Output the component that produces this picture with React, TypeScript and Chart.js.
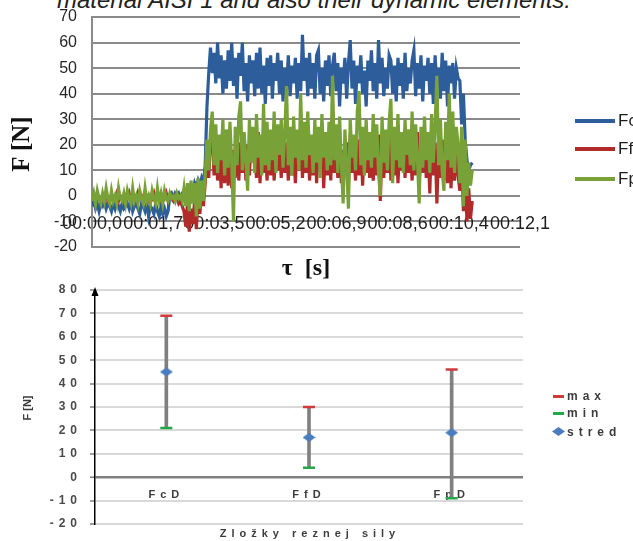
import React, { useEffect, useRef } from 'react';
import { Chart, registerables } from 'chart.js';

Chart.register(...registerables);

// ---------- top chart: force components over time ----------
const SAMPLE_STEP_S = 0.05;
const TIME_TICK_VALUES = [0, 1.73, 3.46, 5.19, 6.91, 8.64, 10.37, 12.1];
const TIME_TICK_LABELS = ['00:00,0', '00:01,7', '00:03,5', '00:05,2', '00:06,9', '00:08,6', '00:10,4', '00:12,1'];
const SERIES_NAMES = ['Fc', 'Ff', 'Fp'];

const FC = [
  -4, -2, -5, -3, -6, -3, -4, -2, -5, -3,
  -4, -6, -3, -5, -2, -4, -6, -3, -5, -4,
  -3, -5, -2, -6, -4, -3, -5, -7, -3, -4,
  -6, -3, -8, -4, -5, -7, -3, -6, -8, -4,
  -7, -5, -8, -6, 0, 1, -1, 1, 0, 1,
  -1, 1, 2, 0, 3, 1, 4, 2, 5, 3,
  6, 4, 7, 5, 12, 35, 48, 58, 48, 56,
  44, 60, 46, 55, 40, 53, 42, 57, 45, 60,
  43, 54, 38, 56, 47, 60, 41, 52, 37, 55,
  44, 53, 39, 56, 42, 58, 40, 51, 36, 54,
  43, 55, 38, 52, 45, 56, 40, 53, 37, 50,
  42, 55, 39, 51, 44, 54, 38, 52, 41, 63,
  45, 54, 39, 56, 42, 52, 38, 55, 57, 40,
  50, 37, 53, 43, 55, 39, 51, 56, 41, 52,
  35, 50, 44, 54, 38, 52, 61, 42, 53, 36,
  51, 44, 55, 40, 49, 35, 53, 45, 57, 41,
  52, 38, 61, 44, 54, 39, 50, 42, 55, 53,
  40, 51, 37, 54, 43, 52, 38, 56, 41, 50,
  44, 53, 57, 39, 52, 42, 55, 37, 51, 45,
  54, 40, 52, 36, 55, 43, 50, 38, 56, 41,
  53, 35, 51, 44, 52, 38, 50, 46, 45, 28,
  40, 22, 14, 10, 12, 13,
];

const FF = [
  -1, 0, -2, 1, -1, -2, 0, -1, 1, -2,
  -1, 0, -2, -1, 1, -2, 0, -1, -2, 0,
  -1, 1, -2, 0, -1, -2, 1, -1, 0, -2,
  1, -1, -2, 0, -1, 1, -2, 0, -1, -2,
  0, -1, 1, -2, 0, -1, -2, 0, -1, -3,
  -2, -4, -6, -12, -3, -14, -5, -11, -2, -13,
  0, -7, 2, -4, 5, 18, 7, 22, 26, 8,
  22, 6, 20, 3, 24, 5, 19, 4, 23, 3,
  18, 7, 25, 6, 21, 9, 24, 6, 20, 8,
  23, 13, 19, 7, 25, 5, 22, 9, 18, 6,
  24, 8, 20, 6, 23, 10, 19, 7, 26, 9,
  21, 6, 24, 8, 19, 5, 22, 10, 25, 7,
  20, 9, 23, 6, 18, 8, 25, 5, 21, 10,
  24, 3, 19, 8, 22, 6, 26, 9, 20, 7,
  23, 5, 18, 8, 21, 4, 24, 9, 19, 6,
  22, 8, 25, 4, 20, 9, 23, 7, 18, 6,
  21, 8, 24, -2, 19, 7, 22, 9, 25, 6,
  20, 8, 23, 5, 19, 10, 24, 7, 21, 9,
  18, 6, 22, 8, 25, 5, 20, 9, 23, 7,
  19, 1, 24, 8, 21, -3, 18, 7, 22, 6,
  20, 5, 23, 3, 19, 6, 21, 8, 2, 15,
  -6, 10, -10, 3, -9, -2,
];

const FP = [
  -2, 1, -3, 2, -1, -3, 1, -2, 3, -1,
  -3, 2, -2, 0, -3, 3, -1, -2, 1, -3,
  2, -1, -3, 3, -2, 0, -3, 2, -1, -3,
  3, -2, 0, -3, 2, -1, -3, 3, -2, 1,
  -3, 2, -1, -2, 1, -1, 0, -2, 1, -1,
  0, -2, 3, -4, 5, -6, 6, -3, 5, -8,
  7, -5, 6, -2, 8, 22, 10, 26, 33, 12,
  28, 9, 24, 14, 30, 8, 26, 11, 29, 13,
  -10, 27, 12, 31, 37, 10, 25, 14, 2, 30,
  13, 27, 9, 32, 15, 24, 8, 36, 12, 29,
  10, 26, 14, 33, 9, 28, 16, 30, 11, 25,
  43, 12, 27, 8, 31, 15, 26, 10, 40, 14,
  29, 11, 33, 16, 24, 9, 30, 13, 27, 7,
  32, 15, 25, 10, 29, 12, 47, 14, 28, 9,
  31, 13, -3, 26, 11, -5, 30, 15, 24, 10,
  33, 41, 12, 27, 8, 30, 14, 25, 11, 32,
  15, 28, 9, 0, 31, 13, 26, 10, 29, 38,
  5, 27, 14, 32, 11, 25, 9, 30, 16, 26,
  12, 33, 10, 28, 15, -3, 27, 11, 31, 14,
  25, 9, 32, 13, 28, 47, 12, 30, 10, 2,
  29, 14, 40, 11, 33, 9, 27, 20, 5, 27,
  -4, 22, 0, 13, 4, 10,
];

// ---------- bottom chart: summary of force components ----------
const COMPONENTS = ['FcD', 'FfD', 'FpD'];
const MAX_VALUES = [69, 30, 46];
const MIN_VALUES = [21, 4, -9];
const MEAN_VALUES = [45, 17, 19];
const SUMMARY_LEGEND = ['max', 'min', 'stred'];

const BLUE = '#2d5e9b';
const RED = '#b22b2b';
const GREEN = '#78a237';
const SERIES_COLORS = [BLUE, RED, GREEN];

const SANS = "'Liberation Sans', Arial, sans-serif";
const SERIF = "'Liberation Serif', 'Times New Roman', serif";

const noAxisPadding = (s: any, width: number) => {
  s.width = width;
  s.paddingTop = 0;
  s.paddingBottom = 0;
};

function TimeChart() {
  const ref = useRef<HTMLCanvasElement>(null);
  useEffect(() => {
    const toPoints = (arr: number[]) => arr.map((y, i) => ({ x: Math.round(i * SAMPLE_STEP_S * 100) / 100, y }));
    const chart = new Chart(ref.current as HTMLCanvasElement, {
      type: 'line',
      data: {
        datasets: [
          { label: SERIES_NAMES[0], data: toPoints(FC), borderColor: BLUE, order: 3 },
          { label: SERIES_NAMES[1], data: toPoints(FF), borderColor: RED, order: 2 },
          { label: SERIES_NAMES[2], data: toPoints(FP), borderColor: GREEN, order: 1 },
        ],
      },
      options: {
        responsive: false,
        animation: false,
        events: [],
        layout: { padding: { left: 0, right: 113, top: 17, bottom: 33 } },
        elements: { point: { radius: 0 }, line: { borderWidth: 3.2, tension: 0 } },
        plugins: { legend: { display: false }, tooltip: { enabled: false } },
        scales: {
          x: {
            type: 'linear',
            min: 0,
            max: 12.1,
            position: { y: 0 } as any,
            afterBuildTicks: (axis: any) => {
              axis.ticks = TIME_TICK_VALUES.map((v) => ({ value: v }));
            },
            ticks: {
              autoSkip: false,
              maxRotation: 0,
              minRotation: 0,
              padding: 17,
              color: '#1e1e1e',
              font: { family: SANS, size: 18 },
              callback: (_v: any, i: number) => TIME_TICK_LABELS[i],
            },
            grid: { display: false, drawTicks: false },
            border: { display: false },
          },
          y: {
            min: -20,
            max: 70,
            afterFit: (s: any) => noAxisPadding(s, 92),
            ticks: { stepSize: 10, padding: 15, color: '#262626', font: { family: SANS, size: 16 } },
            grid: { color: '#8a8a8a', lineWidth: 2, drawTicks: false },
            border: { display: true, color: '#8a8a8a', width: 2 },
          },
        },
      },
    });
    return () => chart.destroy();
  }, []);
  return <canvas ref={ref} width={633} height={280} style={{ position: 'absolute', left: 0, top: 0 }} />;
}

function SummaryChart() {
  const ref = useRef<HTMLCanvasElement>(null);
  useEffect(() => {
    const diamond = document.createElement('canvas');
    diamond.width = 13;
    diamond.height = 9;
    const dctx = diamond.getContext('2d') as CanvasRenderingContext2D;
    dctx.fillStyle = '#4a7dbd';
    dctx.beginPath();
    dctx.moveTo(0, 4.5);
    dctx.lineTo(6.5, 0);
    dctx.lineTo(13, 4.5);
    dctx.lineTo(6.5, 9);
    dctx.closePath();
    dctx.fill();

    const spacingPlugin = {
      id: 'letterSpacing',
      beforeDraw(chart: any) {
        chart.ctx.letterSpacing = '5px';
      },
      afterDraw(chart: any) {
        const { ctx, chartArea } = chart;
        ctx.letterSpacing = '0px';
        ctx.save();
        ctx.fillStyle = '#000';
        ctx.beginPath();
        ctx.moveTo(chartArea.left, chartArea.top - 3);
        ctx.lineTo(chartArea.left - 3.5, chartArea.top + 6);
        ctx.lineTo(chartArea.left + 3.5, chartArea.top + 6);
        ctx.closePath();
        ctx.fill();
        ctx.restore();
      },
    };

    const chart = new Chart(ref.current as HTMLCanvasElement, {
      type: 'bar',
      data: {
        labels: COMPONENTS,
        datasets: [
          {
            type: 'bar',
            label: 'range',
            data: COMPONENTS.map((_, i) => [MIN_VALUES[i], MAX_VALUES[i]]) as any,
            backgroundColor: '#808080',
            barThickness: 3,
            borderWidth: 0,
            order: 4,
          },
          {
            type: 'line',
            label: SUMMARY_LEGEND[0],
            data: MAX_VALUES,
            showLine: false,
            pointStyle: 'line',
            pointRadius: 6,
            pointBorderWidth: 2.5,
            pointBorderColor: '#d03a3a',
            borderColor: '#d03a3a',
            order: 2,
          },
          {
            type: 'line',
            label: SUMMARY_LEGEND[1],
            data: MIN_VALUES,
            showLine: false,
            pointStyle: 'line',
            pointRadius: 6,
            pointBorderWidth: 2.5,
            pointBorderColor: '#22a84a',
            borderColor: '#22a84a',
            order: 3,
          },
          {
            type: 'line',
            label: SUMMARY_LEGEND[2],
            data: MEAN_VALUES,
            showLine: false,
            pointStyle: diamond as any,
            pointRadius: 6,
            order: 1,
          },
        ],
      },
      options: {
        responsive: false,
        animation: false,
        events: [],
        layout: { padding: { left: 0, right: 110, top: 10, bottom: 17 } },
        plugins: { legend: { display: false }, tooltip: { enabled: false } },
        scales: {
          x: {
            type: 'category',
            offset: true,
            position: { y: 0 } as any,
            ticks: { padding: 11, color: '#3c3c3c', font: { family: SANS, size: 11, weight: 'bold' } },
            grid: { display: false, drawTicks: false },
            border: { display: false },
          },
          y: {
            min: -20,
            max: 80,
            afterFit: (s: any) => noAxisPadding(s, 95),
            ticks: { stepSize: 10, padding: 8, color: '#4a4a4a', font: { family: SANS, size: 12, weight: 'bold' } },
            grid: {
              color: (c: any) => (c.tick && c.tick.value === 0 ? '#7f7f7f' : '#d9d9d9'),
              lineWidth: (c: any) => (c.tick && c.tick.value === 0 ? 2.5 : 2),
              drawTicks: true,
              tickLength: 5,
              tickColor: '#7f7f7f',
              tickWidth: 1.5,
            },
            border: { display: true, color: '#000', width: 1.5 },
          },
        },
      },
      plugins: [spacingPlugin],
    });
    return () => chart.destroy();
  }, []);
  return <canvas ref={ref} width={633} height={261} style={{ position: 'absolute', left: 0, top: 280 }} />;
}

const abs = (style: React.CSSProperties): React.CSSProperties => ({ position: 'absolute', whiteSpace: 'pre', ...style });

export default function App() {
  const smallBold: React.CSSProperties = { fontFamily: SANS, fontSize: 12, fontWeight: 'bold', color: '#3c3c3c', letterSpacing: '5px' };
  return (
    <div style={{ position: 'absolute', left: 0, top: 0, width: 633, height: 541, overflow: 'hidden', background: '#fff' }}>
      <div style={abs({ left: 57, top: -12, fontFamily: SANS, fontStyle: 'italic', fontSize: 24, lineHeight: '24px', color: '#222' })}>
        material AISI 1 and also their dynamic elements.
      </div>
      <TimeChart />
      <SummaryChart />

      {/* top chart axis titles */}
      <div style={abs({ left: 21, top: 144, transform: 'translate(-50%, -50%) rotate(-90deg)', fontFamily: SERIF, fontWeight: 'bold', fontSize: 25, color: '#111' })}>
        F [N]
      </div>
      <div style={abs({ left: 306, top: 267, transform: 'translate(-50%, -50%)', fontFamily: SERIF, fontWeight: 'bold', fontSize: 24, wordSpacing: '6px', color: '#111' })}>
        τ [s]
      </div>

      {/* top legend */}
      {SERIES_NAMES.map((name, i) => {
        const y = [121, 149, 179][i];
        return (
          <React.Fragment key={name}>
            <div style={abs({ left: 575, top: y - 2, width: 40, height: 4, background: SERIES_COLORS[i] })} />
            <div style={abs({ left: 618, top: y - 10, height: 20, lineHeight: '20px', fontFamily: SANS, fontSize: 17, color: '#1e1e1e' })}>{name}</div>
          </React.Fragment>
        );
      })}

      {/* bottom chart axis titles */}
      <div style={abs({ left: 27, top: 408, transform: 'translate(-50%, -50%) rotate(-90deg)', fontFamily: SANS, fontSize: 11, fontWeight: 'bold', color: '#3c3c3c' })}>
        F [N]
      </div>
      <div style={abs({ left: 310, top: 533, transform: 'translate(-50%, -50%)', ...smallBold, fontSize: 11 })}>Zložky reznej sily</div>

      {/* bottom legend */}
      <div style={abs({ left: 553, top: 395, width: 11, height: 2.5, background: '#d03a3a' })} />
      <div style={abs({ left: 567, top: 389, height: 14, lineHeight: '14px', ...smallBold })}>{SUMMARY_LEGEND[0]}</div>
      <div style={abs({ left: 553, top: 412, width: 11, height: 2.5, background: '#22a84a' })} />
      <div style={abs({ left: 567, top: 406, height: 14, lineHeight: '14px', ...smallBold })}>{SUMMARY_LEGEND[1]}</div>
      <svg style={{ position: 'absolute', left: 552, top: 427 }} width={13} height={9}>
        <polygon points="0,4.5 6.5,0 13,4.5 6.5,9" fill="#4a7dbd" />
      </svg>
      <div style={abs({ left: 567, top: 425, height: 14, lineHeight: '14px', ...smallBold })}>{SUMMARY_LEGEND[2]}</div>
    </div>
  );
}
